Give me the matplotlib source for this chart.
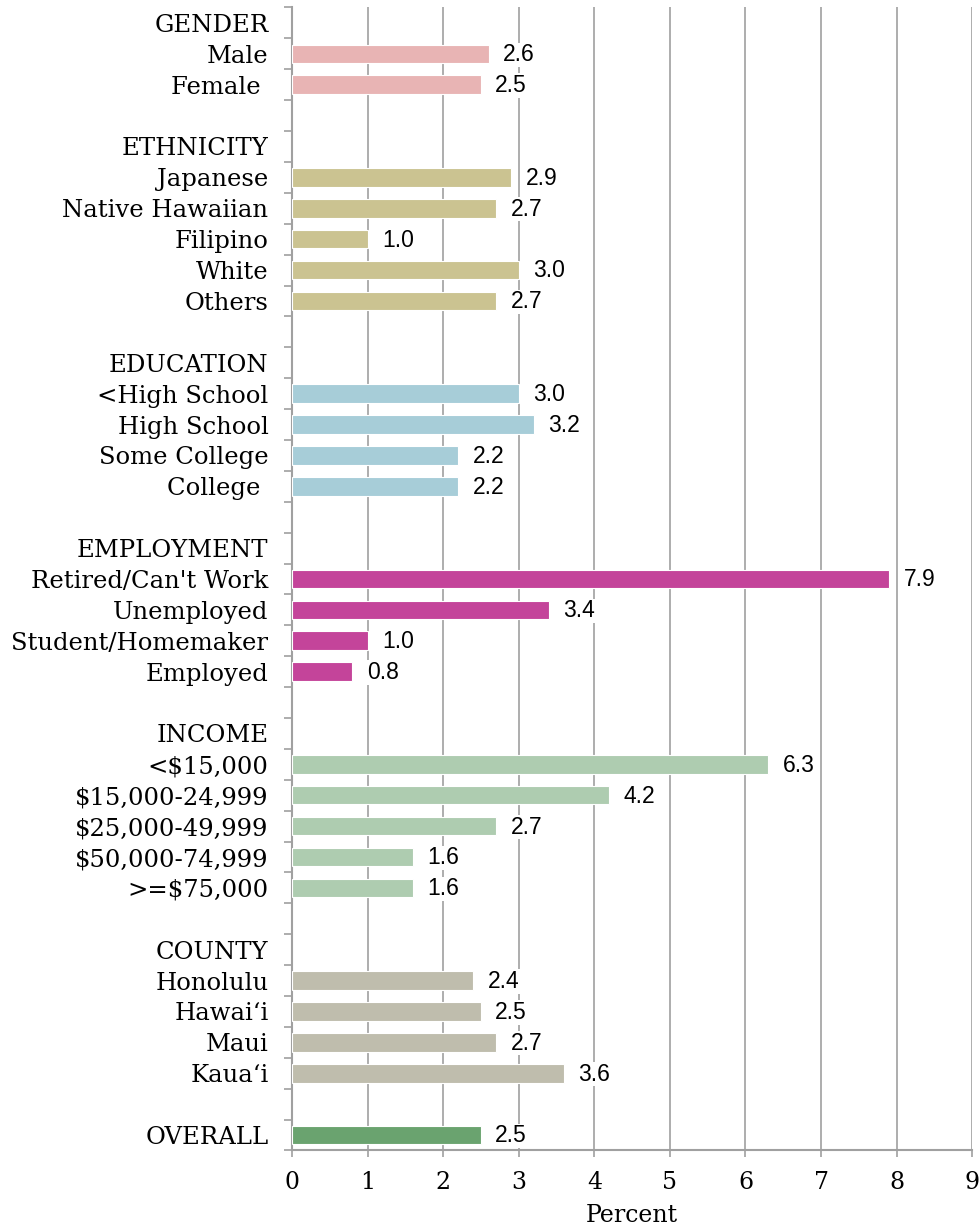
import matplotlib
matplotlib.use("Agg")
import matplotlib.pyplot as plt
from matplotlib.ticker import FixedLocator

# groups of the survey breakdown, top to bottom
groups = ["GENDER", "ETHNICITY", "EDUCATION", "EMPLOYMENT", "INCOME", "COUNTY"]
gender_labels = ["Male", "Female "]
gender_values = [2.6, 2.5]
ethnicity_labels = ["Japanese", "Native Hawaiian", "Filipino", "White", "Others"]
ethnicity_values = [2.9, 2.7, 1.0, 3.0, 2.7]
education_labels = ["<High School", "High School", "Some College", "College "]
education_values = [3.0, 3.2, 2.2, 2.2]
employment_labels = ["Retired/Can't Work", "Unemployed", "Student/Homemaker", "Employed"]
employment_values = [7.9, 3.4, 1.0, 0.8]
income_labels = ["<$15,000", "$15,000-24,999", "$25,000-49,999", "$50,000-74,999", ">=$75,000"]
income_values = [6.3, 4.2, 2.7, 1.6, 1.6]
county_labels = ["Honolulu", "Hawai\u2018i", "Maui", "Kaua\u2018i"]
county_values = [2.4, 2.5, 2.7, 3.6]
overall_label = "OVERALL"
overall_value = 2.5

group_colors = ["#E8B4B4", "#CBC391", "#A7CDD8", "#C4449A", "#AECCB0", "#BFBDAD"]
overall_color = "#6AA36F"

group_data = [
    (gender_labels, gender_values),
    (ethnicity_labels, ethnicity_values),
    (education_labels, education_values),
    (employment_labels, employment_values),
    (income_labels, income_values),
    (county_labels, county_values),
]

# build rows: header, items, blank spacer
rows = []  # (label, value or None, color)
for name, (labels, values), color in zip(groups, group_data, group_colors):
    rows.append((name, None, None))
    for lab, val in zip(labels, values):
        rows.append((lab, val, color))
    rows.append(("", None, None))
rows.append((overall_label, overall_value, overall_color))

label_font = "DejaVu Serif"
value_font = "Liberation Sans"
grid_grey = "#A0A0A0"

fig = plt.figure(figsize=(9.8, 12.26), dpi=100)
ax = fig.add_axes([0.298, 0.0616, 0.694, 0.9323])

n = len(rows)
for i, (lab, val, color) in enumerate(rows):
    if val is None:
        continue
    ax.barh(i, val, height=0.6, color=color, edgecolor="white", linewidth=0.8, zorder=3)
    ax.text(val + 0.19, i + 0.03, f"{val:.1f}", va="center", ha="left", fontsize=16.5,
            family=value_font, zorder=4,
            bbox=dict(facecolor="white", edgecolor="none", pad=0.5))

ax.set_xlim(0, 9)
ax.set_ylim(n - 0.5, -0.5)
ax.set_xticks(range(10))
ax.set_xticklabels([str(t) for t in range(10)], family=label_font, fontsize=17)
ax.set_xlabel("Percent", family=label_font, fontsize=17, labelpad=7)

ax.yaxis.set_major_locator(FixedLocator(range(n)))
ax.set_yticklabels([r[0] for r in rows], family=label_font, fontsize=17.5)
ax.yaxis.set_minor_locator(FixedLocator([i - 0.5 for i in range(n + 1)]))
ax.tick_params(axis="y", which="major", length=0, pad=17)
ax.tick_params(axis="y", which="minor", length=6, color=grid_grey, width=1.2)
ax.tick_params(axis="x", length=5, color=grid_grey, width=1.2, pad=10)

ax.grid(axis="x", color=grid_grey, linewidth=1.2, zorder=0)
ax.set_axisbelow(True)
for side in ["top", "right"]:
    ax.spines[side].set_visible(False)
for side in ["left", "bottom"]:
    ax.spines[side].set_color(grid_grey)
    ax.spines[side].set_linewidth(1.5)

fig.savefig("out.png", dpi=100)
